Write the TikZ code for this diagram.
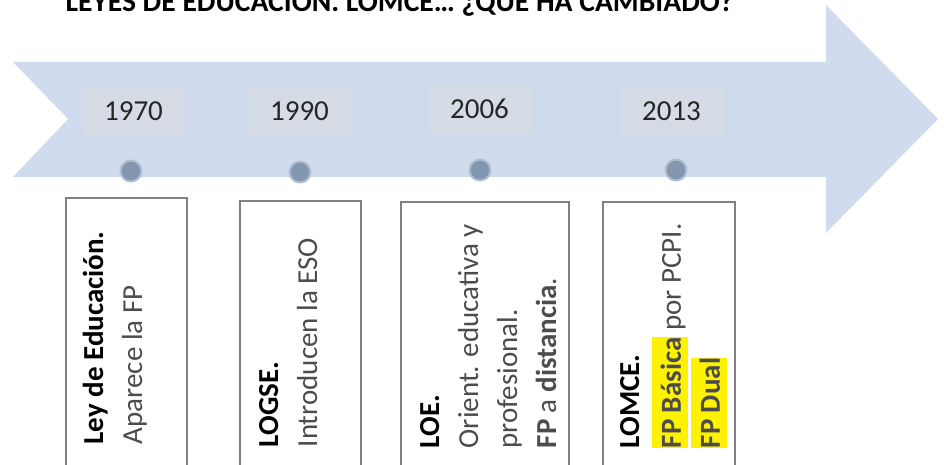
\documentclass[tikz,border=0pt]{standalone}
\usepackage{fontspec}
\setmainfont{Carlito}
\usepackage{xcolor}
\usetikzlibrary{positioning}
\definecolor{bandblue}{RGB}{208,220,238}
\definecolor{yeargray}{RGB}{214,220,229}
\definecolor{dotfill}{RGB}{132,151,176}
\definecolor{dotrim}{RGB}{176,190,210}
\definecolor{boxline}{RGB}{128,128,128}
\newcommand{\hl}[1]{{\setlength{\fboxsep}{0pt}\colorbox{yellow}{\rule[-7pt]{0pt}{36pt}#1}}}

\begin{document}
\begin{tikzpicture}[
  x=1pt, y=-1pt,
  font=\fontsize{29}{39}\selectfont,
  year/.style={fill=yeargray,minimum width=102pt,minimum height=48pt,inner sep=0pt,text=black!85},
  dot/.style={circle,fill=dotfill,draw=dotrim,line width=2pt,minimum size=21pt,inner sep=0pt},
  lawbox/.style={draw=boxline,line width=1.5pt,anchor=north west,minimum height=270pt,inner sep=0pt},
  lawtext/.style={rotate=90,anchor=north west,align=left,inner sep=0pt,text=black!70}
]
\useasboundingbox (0,0) rectangle (944,465);
\clip (0,0) rectangle (944,465);

% band with arrow head
\fill[bandblue] (13,62) -- (826,62) -- (826,5) -- (938,119) -- (826,233)
  -- (826,177) -- (13,177) -- (68,119) -- cycle;

\node[anchor=base west,font=\fontsize{29.6}{34}\selectfont\bfseries] (title) at (62,12)
  {LEYES DE EDUCACIÓN. LOMCE… ¿QUÉ HA CAMBIADO?};

% years
\node[year] (y1) at (133.5,111.5) {1970};
\node[year] (y2) at (299.5,111) {1990};
\node[year] (y3) at (479.5,109) {2006};
\node[year] (y4) at (671.5,111) {2013};

\node[dot] (d1) at (131,171) {};
\node[dot] (d2) at (300,172) {};
\node[dot] (d3) at (480,170) {};
\node[dot] (d4) at (676,170) {};

% laws
\node[lawbox,minimum width=121pt] (b1) at (65,197) {};
\node[lawbox,minimum width=121pt] (b2) at (239,200) {};
\node[lawbox,minimum width=168pt] (b3) at (400,201) {};
\node[lawbox,minimum width=132pt] (b4) at (602,201) {};

\node[lawtext] (t1) at ([shift={(10.7,-24)}]b1.south west)
  {\strut\textcolor{black}{\bfseries Ley de Educación.}\\Aparece la FP};
\node[lawtext] (t2) at ([shift={(11.7,-24)}]b2.south west)
  {\strut\textcolor{black}{\bfseries LOGSE.}\\Introducen la ESO};
\node[lawtext] (t3) at ([shift={(11.7,-24)}]b3.south west)
  {\strut\textcolor{black}{\bfseries LOE.}\\Orient. educativa y\\profesional.\\\textbf{FP} a \textbf{distancia}.};
\node[lawtext] (t4) at ([shift={(9.7,-24)}]b4.south west)
  {\strut\textcolor{black}{\bfseries LOMCE.}\\\hl{\textbf{FP Básica}} por PCPI.\\\hl{\textbf{FP Dual}}};
\end{tikzpicture}
\end{document}
